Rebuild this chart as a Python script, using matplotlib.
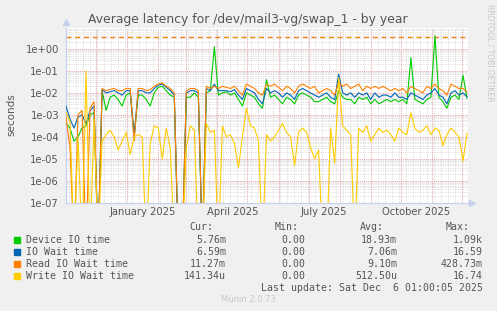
import matplotlib
matplotlib.use('Agg')
import matplotlib.pyplot as plt
import matplotlib.dates as mdates
from matplotlib.ticker import LogLocator, FuncFormatter, NullFormatter
import numpy as np
import pandas as pd

# one sample every 4 days, Nov 1 2024 .. Dec 6 2025
start_date = '2024-11-01'
end_date = '2025-12-06'
n_samples = 101

# values are log10(seconds); -9 marks a zero sample (drawn to the bottom)
device_log = [
    -3.4, -3.6, -4.2, -4.0, -3.6, -3.5, -3.0, -2.9, -9, -1.9,
    -2.8, -2.2, -2.1, -2.3, -2.6, -2.1, -2.0, -4.0, -2.1, -2.1,
    -2.3, -2.6, -2.0, -1.75, -1.7, -1.9, -2.1, -2.2, -9, -9,
    -2.2, -2.2, -2.0, -2.2, -9, -2.0, -1.9, 0.1, -2.1, -2.0,
    -1.95, -2.1, -2.0, -2.3, -2.6, -2.0, -2.1, -2.2, -2.5, -2.7,
    -1.4, -2.2, -2.1, -2.3, -2.5, -2.2, -2.3, -2.5, -2.1, -2.0,
    -2.1, -2.2, -2.4, -2.4, -2.3, -2.2, -2.4, -2.5, -1.9, -2.2,
    -2.3, -2.3, -2.5, -2.2, -2.3, -2.2, -2.5, -2.3, -2.5, -2.4,
    -2.3, -2.4, -2.3, -2.4, -2.3, -2.5, -0.4, -2.3, -2.4, -2.5,
    -2.3, -2.2, 0.6, -2.2, -2.4, -2.7, -2.2, -2.1, -2.3, -1.2,
    -2.24,
]
iowait_log = [
    -2.6, -3.2, -3.6, -3.1, -3.0, -3.4, -2.8, -2.6, -9, -1.85,
    -2.0, -1.95, -1.9, -2.0, -2.1, -1.9, -1.9, -3.9, -1.9, -1.9,
    -2.0, -2.0, -1.8, -1.65, -1.6, -1.75, -1.9, -2.1, -9, -9,
    -2.0, -1.9, -1.9, -2.0, -9, -1.8, -1.9, -1.6, -1.9, -1.9,
    -1.9, -1.95, -1.85, -2.1, -2.3, -1.8, -1.9, -2.0, -2.3, -2.5,
    -1.8, -2.0, -1.9, -2.0, -2.2, -2.0, -2.1, -2.3, -1.9, -1.8,
    -1.9, -2.0, -2.1, -2.2, -2.1, -2.0, -2.2, -2.3, -1.15, -2.0,
    -2.1, -2.0, -2.2, -2.0, -2.1, -2.0, -2.3, -2.0, -2.2, -2.1,
    -2.1, -2.2, -2.0, -2.2, -2.2, -2.3, -2.0, -2.1, -2.2, -2.3,
    -2.1, -2.0, -1.8, -2.1, -2.2, -2.5, -2.0, -1.9, -2.1, -2.0,
    -2.18,
]
read_log = [
    -3.1, -4.5, -9, -3.0, -2.8, -9, -2.7, -2.4, -9, -1.8,
    -1.9, -1.85, -1.8, -1.9, -1.9, -1.8, -1.8, -4.2, -1.8, -1.8,
    -1.9, -1.85, -1.7, -1.6, -1.55, -1.7, -1.8, -2.0, -9, -9,
    -1.9, -1.8, -1.8, -1.9, -9, -1.7, -1.8, -1.7, -1.8, -1.7,
    -1.75, -1.8, -1.7, -1.9, -2.1, -1.6, -1.7, -1.8, -2.0, -2.1,
    -1.6, -1.7, -1.6, -1.75, -1.9, -1.7, -1.8, -2.0, -1.7, -1.6,
    -1.7, -1.8, -1.7, -2.0, -1.9, -1.8, -1.9, -2.1, -1.5, -1.7,
    -1.6, -1.8, -1.7, -1.6, -1.9, -1.7, -1.8, -1.7, -1.8, -1.7,
    -1.8, -1.9, -1.8, -1.9, -1.8, -2.0, -1.7, -1.8, -1.9, -2.0,
    -1.7, -1.8, -1.6, -1.8, -1.9, -2.1, -1.6, -1.7, -1.8, -1.8,
    -1.95,
]
write_log = [
    -2.9, -3.3, -9, -4.0, -9, -1.0, -9, -3.2, -9, -4.2,
    -3.9, -3.7, -4.0, -4.6, -4.2, -3.8, -4.8, -4.0, -3.9, -4.0,
    -9, -4.3, -3.5, -3.6, -5.0, -3.6, -4.5, -9, -9, -9,
    -4.5, -3.5, -3.7, -9, -9, -3.4, -3.8, -3.7, -9, -3.5,
    -4.0, -3.9, -4.3, -5.4, -4.0, -2.7, -3.5, -3.6, -4.2, -9,
    -3.9, -4.2, -4.0, -3.7, -3.4, -3.8, -4.0, -5.3, -3.8, -3.6,
    -3.8, -4.5, -5.0, -4.6, -9, -9, -3.6, -5.2, -1.3, -3.5,
    -3.7, -3.9, -9, -3.6, -3.8, -3.5, -4.2, -3.9, -3.6, -3.8,
    -3.7, -3.9, -4.2, -3.6, -3.8, -3.9, -2.9, -3.6, -3.8, -3.7,
    -3.5, -3.9, -3.6, -3.7, -4.4, -3.9, -3.6, -3.8, -4.0, -5.1,
    -3.85,
]
warning_level = 3.4

series_names = ['Device IO time', 'IO Wait time', 'Read IO Wait time', 'Write IO Wait time']
series_colors = ['#00CC00', '#0066B3', '#FF8000', '#FFCC00']
cur_vals = ['5.76m', '6.59m', '11.27m', '141.34u']
min_vals = ['0.00', '0.00', '0.00', '0.00']
avg_vals = ['18.93m', '7.06m', '9.10m', '512.50u']
max_vals = ['1.09k', '16.59', '428.73m', '16.74']

quarter_labels = ['January 2025', 'April 2025', 'July 2025', 'October 2025']
quarter_label_dates = ['2025-01-16', '2025-04-16', '2025-07-16', '2025-10-16']

W, H = 497, 311
fig = plt.figure(figsize=(W / 100, H / 100), dpi=100, facecolor='#F0F0F0')
ax = fig.add_axes([66 / W, 1 - 202.7 / H, 402 / W, 174.4 / H], facecolor='white')

dates = pd.date_range(start_date, end_date, periods=n_samples)
for vals, col in zip([device_log, iowait_log, read_log, write_log], series_colors):
    ax.plot(dates, 10.0 ** np.array(vals), color=col, lw=0.8, zorder=3)

ax.axhline(warning_level, color='#FF8000', lw=0.9, ls=(0, (4, 3)), zorder=2)

ax.set_yscale('log')
ax.set_ylim(1e-7, 8.7)
ax.set_xlim(pd.Timestamp(start_date), pd.Timestamp(end_date) + pd.Timedelta(days=1))

ax.yaxis.set_major_locator(LogLocator(base=10, numticks=20))
ax.yaxis.set_minor_locator(LogLocator(base=10, subs=np.arange(2, 10), numticks=20))
ax.yaxis.set_major_formatter(FuncFormatter(lambda v, p: '%.0e' % v))
ax.yaxis.set_minor_formatter(NullFormatter())
ax.xaxis.set_major_locator(mdates.MonthLocator())
ax.xaxis.set_minor_locator(mdates.WeekdayLocator(byweekday=0))
ax.xaxis.set_major_formatter(NullFormatter())

ax.grid(which='minor', color='#D8D8D8', ls=(0, (1, 1)), lw=0.6)
ax.grid(which='major', color='#E8A0A0', ls=(0, (1, 1)), lw=0.7)
ax.tick_params(which='both', length=0)
ax.tick_params(axis='y', labelsize=7.2, colors='#555555', pad=5)

for s in ['top', 'right']:
    ax.spines[s].set_visible(False)
for s in ['left', 'bottom']:
    ax.spines[s].set_color('#C8D0F0')
    ax.spines[s].set_linewidth(0.9)
ax.plot([0], [1.035], marker='^', color='#C8D0F0', ms=4, transform=ax.transAxes, clip_on=False)
ax.plot([1.01], [0], marker='>', color='#C8D0F0', ms=4, transform=ax.transAxes, clip_on=False)

for lab, d in zip(quarter_labels, quarter_label_dates):
    ax.text(pd.Timestamp(d), -0.055, lab, transform=ax.get_xaxis_transform(),
            ha='center', va='center', fontsize=7.2, color='#555555')

fig.text(248 / W, 1 - 19 / H, 'Average latency for /dev/mail3-vg/swap_1 - by year',
         ha='center', va='center', fontsize=8.9, color='#555555')
fig.text(11 / W, 1 - 115 / H, 'seconds', rotation=90, ha='center', va='center',
         fontsize=7.5, color='#555555')
fig.text(490 / W, 1 - 53 / H, 'RRDTOOL / TOBI OETIKER', rotation=270, ha='center',
         va='center', fontsize=5.5, color='#C8C8C8')

mono = dict(family='DejaVu Sans Mono', fontsize=7.1, color='#555555', va='center')
header_y = 227.3
for txt, xr in zip(['Cur:', 'Min:', 'Avg:', 'Max:'], [213, 299, 384, 470]):
    fig.text(xr / W, 1 - header_y / H, txt, ha='right', **mono)
row_ys = [240, 251.7, 263.7, 275.7]
for i, name in enumerate(series_names):
    y = 1 - row_ys[i] / H
    fig.patches.append(plt.Rectangle((14 / W, y - 3 / H), 6 / W, 6 / H,
                                     transform=fig.transFigure, color=series_colors[i]))
    fig.text(26 / W, y, name, ha='left', **mono)
    for val, xr in zip([cur_vals[i], min_vals[i], avg_vals[i], max_vals[i]], [226, 305, 397, 483]):
        fig.text(xr / W, y, val, ha='right', **mono)
fig.text(483 / W, 1 - 287.7 / H, 'Last update: Sat Dec  6 01:00:05 2025', ha='right', **mono)
fig.text(248 / W, 1 - 300 / H, 'Munin 2.0.73', ha='center', va='center',
         fontsize=6, color='#C8C8C8')

fig.savefig('out.png', dpi=100, facecolor=fig.get_facecolor())
